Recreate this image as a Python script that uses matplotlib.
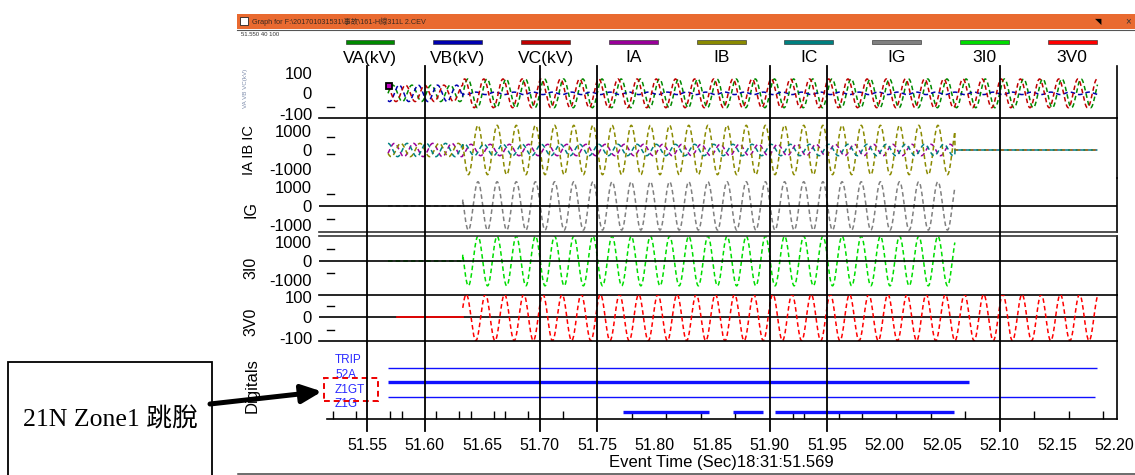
import numpy as np
import matplotlib
matplotlib.use("Agg")
import matplotlib.pyplot as plt
from matplotlib.transforms import blended_transform_factory
from matplotlib.patches import Rectangle, FancyArrowPatch
from matplotlib.lines import Line2D

plt.rcParams['font.family'] = ['Liberation Sans', 'Noto Sans CJK TC', 'DejaVu Sans']

# ---------------------------------------------------------------- data
channels = ["VA(kV)", "VB(kV)", "VC(kV)", "IA", "IB", "IC", "IG", "3I0", "3V0"]
channel_colors = ["#008a00", "#0000b0", "#c00000", "#990099", "#8a8a00",
                  "#008080", "#808080", "#00dd00", "#ff0000"]

freq_hz = 60.0
# record start, fault inception, breaker clearing, record end (s)
interval_edges = [51.568, 51.633, 52.061, 52.185]
t_3v0_start = 51.576

# peak amplitude / phase angle (deg) for pre-fault, fault, after clearing
amp_va = [40, 70, 70];        ang_va = [0, 30, 30]
amp_vb = [40, 6, 6];          ang_vb = [-120, -120, -120]
amp_vc = [40, 70, 70];        ang_vc = [120, 90, 90]
amp_ia = [350, 300, 0];       ang_ia = [-30, -30, 0]
amp_ib = [350, 1300, 0];      ang_ib = [-150, -160, 0]
amp_ic = [350, 300, 0];       ang_ic = [90, 90, 0]
amp_ig = [0, 1260, np.nan];   ang_ig = [0, -160, 0]
amp_3i0 = [0, 1320, np.nan];  ang_3i0 = [0, -160, 0]
amp_3v0 = [0, 115, 115];      ang_3v0 = [0, 60, 60]

cursor_time = 51.5685
cursor_value = 34

# digital channels: (start, end) of each drawn segment
digital_names = ["TRIP", "52A", "Z1GT", "Z1G"]
trip_segments = [(51.568, 52.185)]
a52_segments = [(51.568, 52.073)]
z1gt_segments = [(51.568, 52.183)]
z1g_segments = [(51.772, 51.847), (51.868, 51.8945), (51.905, 52.0606)]

x_major = [51.55, 51.60, 51.65, 51.70, 51.75, 51.80, 51.85, 51.90,
           51.95, 52.00, 52.05, 52.10, 52.15, 52.20]
x_minor = [51.52, 51.54, 51.57, 51.58, 51.61, 51.63, 51.64, 51.66, 51.67,
           51.69, 51.72, 51.78, 51.81, 51.84, 51.87, 51.92, 51.93, 51.96,
           51.98, 52.01, 52.04, 52.07, 52.13, 52.16, 52.19]
cursor_lines = [51.55, 51.60, 51.70, 51.75, 51.90, 51.95, 52.10]

# ---------------------------------------------------------------- helpers
W, H = 1135, 475
fig = plt.figure(figsize=(W / 100, H / 100), dpi=100)
fig.patch.set_facecolor("white")

X0, X1 = 319, 1117
xlim = (51.508, 52.202)


def fx(px):
    return px / W


def fy(py):
    return 1 - py / H


def panel(top, bottom):
    ax = fig.add_axes([fx(X0), fy(bottom), (X1 - X0) / W, (bottom - top) / H])
    ax.set_xlim(*xlim)
    for s in ax.spines.values():
        s.set_visible(False)
    ax.spines['right'].set_visible(True)
    ax.spines['right'].set_linewidth(1.2)
    ax.tick_params(axis='x', bottom=False, labelbottom=False)
    ax.tick_params(axis='y', length=0, pad=5, labelsize=12)
    ax.patch.set_alpha(0)
    return ax


t = np.linspace(interval_edges[0], interval_edges[-1], 8000)


def synth(amps, angs, start=None):
    y = np.full_like(t, np.nan)
    edges = list(interval_edges)
    if start is not None:
        edges[0] = start
    for i in range(3):
        m = (t >= edges[i]) & (t <= edges[i + 1])
        y[m] = amps[i] * np.sin(2 * np.pi * freq_hz * (t[m] - interval_edges[0])
                                + np.deg2rad(angs[i]))
    return y


trace_style = dict(lw=1.1, linestyle=(0, (3, 2)))


def ticks(ax, vals, labels):
    ax.set_yticks(vals)
    ax.set_yticklabels(labels)


def side_dashes(ax, vals):
    tr = blended_transform_factory(ax.transAxes, ax.transData)
    for v in vals:
        ax.add_line(Line2D([0.0104, 0.0188], [v, v], transform=tr,
                           color="black", lw=1.0, clip_on=False))


# ---------------------------------------------------------------- panels
ax1 = panel(66, 118)
ax1.set_ylim(-120, 133)
ax1.spines['bottom'].set_visible(True)
ax1.spines['bottom'].set_linewidth(1.2)
for amps, angs, c in [(amp_va, ang_va, channel_colors[0]),
                      (amp_vb, ang_vb, channel_colors[1]),
                      (amp_vc, ang_vc, channel_colors[2])]:
    ax1.plot(t, synth(amps, angs), color=c, **trace_style)
ax1.plot([cursor_time], [cursor_value], marker='s', ms=4.5, mfc="#c000c0",
         mec="black", mew=1.3, zorder=5)
ticks(ax1, [100, 0, -100], ["100", "0", "-100"])
side_dashes(ax1, [-65])

ax2 = panel(118, 178)
ax2.set_ylim(-1474, 1684)
for amps, angs, c in [(amp_ia, ang_ia, channel_colors[3]),
                      (amp_ib, ang_ib, channel_colors[4]),
                      (amp_ic, ang_ic, channel_colors[5])]:
    ax2.plot(t, synth(amps, angs), color=c, **trace_style)
ticks(ax2, [1000, 0, -1000], ["1000", "0", "-1000"])
side_dashes(ax2, [670, -230])

ax3 = panel(178, 232.3)
ax3.set_ylim(-1375, 1453)
ax3.spines['bottom'].set_visible(True)
ax3.spines['bottom'].set_linewidth(1.2)
ax3.spines['bottom'].set_color("#333333")
ax3.axhline(0, color="black", lw=1.2, zorder=4)
ax3.plot(t, synth(amp_ig, ang_ig), color=channel_colors[6], **trace_style)
ticks(ax3, [1000, 0, -1000], ["1000", "0", "-1000"])
side_dashes(ax3, [640, -700])

ax4 = panel(235.7, 294.5)
ax4.set_ylim(-1780, 1345)
ax4.spines['bottom'].set_visible(True)
ax4.spines['top'].set_visible(True)
for s in ('top', 'bottom'):
    ax4.spines[s].set_linewidth(1.2)
ax4.spines['top'].set_color("#333333")
ax4.axhline(0, color="black", lw=1.2, zorder=4)
ax4.plot(t, synth(amp_3i0, ang_3i0), color=channel_colors[7], **trace_style)
ticks(ax4, [1000, 0, -1000], ["1000", "0", "-1000"])
side_dashes(ax4, [650, -660])

ax5 = panel(294.5, 340.7)
ax5.set_ylim(-115, 114)
ax5.spines['bottom'].set_visible(True)
ax5.spines['bottom'].set_linewidth(1.2)
ax5.axhline(0, color="black", lw=1.2, zorder=1)
y3v0 = synth(amp_3v0, ang_3v0, start=t_3v0_start)
pre = t < interval_edges[1]
ax5.plot(t[pre], y3v0[pre], color=channel_colors[8], lw=1.2, zorder=3)
ax5.plot(t[~pre], y3v0[~pre], color=channel_colors[8], **trace_style)
ticks(ax5, [100, 0, -100], ["100", "0", "-100"])
side_dashes(ax5, [58, -60])

# digital channels
axd = panel(340.7, 419)
axd.set_ylim(3.49, -1.84)
axd.spines['bottom'].set_visible(True)
axd.spines['bottom'].set_linewidth(1.2)
axd.spines['bottom'].set_bounds(51.515, xlim[1])
axd.set_yticks([])
digital_blue = "#1010ff"
for row, (segs, lw) in enumerate([(trip_segments, 1.0), (a52_segments, 2.4),
                                   (z1gt_segments, 1.0), (z1g_segments, 2.4)]):
    for a, b in segs:
        axd.plot([a, b], [row, row], color=digital_blue, lw=lw,
                 solid_capstyle='butt')
    axd.text(51.522, row - 0.5, digital_names[row], color="#2a2aff",
             fontsize=8.5, ha='left', va='center')
axd.tick_params(axis='x', which='major', bottom=True, labelbottom=True,
                length=0, pad=14, labelsize=11.5)
axd.set_xticks(x_major)
axd.set_xticklabels([f"{v:.2f}" for v in x_major])
axd.set_xticks(x_minor, minor=True)
axd.tick_params(axis='x', which='minor', bottom=True, direction='in',
                length=6, width=1.0)

# cursor lines crossing all panels
trv = blended_transform_factory(axd.transData, fig.transFigure)
for xv in cursor_lines:
    fig.add_artist(Line2D([xv, xv], [fy(431), fy(66)], transform=trv,
                          color="black", lw=1.3, zorder=6))

# ---------------------------------------------------------------- labels
fig.text(fx(721), fy(463), "Event Time (Sec)18:31:51.569", ha='center',
         va='center', fontsize=12)
fig.text(fx(246), fy(88), "VA VB VC(kV)", rotation=90, ha='center',
         va='center', fontsize=4.5, color="#7d8cab")
for txt, x, y, fs in [("IA IB IC", 249, 150, 10.5), ("IG", 251.3, 209, 11.5),
                      ("3I0", 251.3, 268, 11.5), ("3V0", 251, 322, 11.5),
                      ("Digitals", 251.7, 385.5, 12)]:
    fig.text(fx(x), fy(y), txt, rotation=90, ha='center', va='center',
             fontsize=fs)

# legend row
legend_x = [370, 457.8, 545.5, 633.5, 721.2, 808.8, 896.5, 984.3, 1072]
for name, col, cx in zip(channels, channel_colors, legend_x):
    fig.add_artist(Rectangle((fx(cx - 24.5), fy(44)), 49 / W, 4 / H,
                             transform=fig.transFigure, facecolor=col,
                             edgecolor="#202020", lw=0.4))
    fig.text(fx(cx), fy(58), name, ha='center', va='center', fontsize=12.5)

# window title bar
fig.add_artist(Rectangle((fx(237), fy(29)), (W - 237) / W, 15 / H,
                         transform=fig.transFigure, facecolor="#e96a30",
                         edgecolor="none"))
fig.add_artist(Line2D([fx(237), 1], [fy(29.5), fy(29.5)], color="#555555",
                      lw=0.8))
fig.add_artist(Rectangle((fx(240), fy(25)), 8 / W, 8 / H,
                         transform=fig.transFigure, facecolor="white",
                         edgecolor="#222222", lw=0.6))
fig.text(fx(252), fy(21.5), r"Graph for F:\201701031531\事故\161-H線311L 2.CEV",
         ha='left', va='center', fontsize=5.2, color="#3a2a20")
fig.text(fx(1098), fy(21.5), "◥", ha='center', va='center', fontsize=6,
         color="black", family="DejaVu Sans")
fig.text(fx(1128), fy(21.5), "×", ha='center', va='center', fontsize=7,
         color="#333333")
fig.text(fx(241), fy(34.5), "51.550 40 100", ha='left', va='center',
         fontsize=4.3, color="#333333")
fig.add_artist(Line2D([fx(238), 1], [fy(474), fy(474)], color="#444444",
                      lw=1.1))

# annotation of the zone-1 ground element
fig.add_artist(Rectangle((fx(8), fy(477)), 204 / W, 115 / H,
                         transform=fig.transFigure, facecolor="white",
                         edgecolor="black", lw=1.3))
fig.text(fx(110), fy(420), "21N Zone1 跳脫", ha='center', va='center',
         fontsize=18.5, family=['Liberation Serif', 'Noto Sans CJK TC'])
fig.add_artist(FancyArrowPatch((fx(210), fy(404)), (fx(322), fy(391.5)),
                               transform=fig.transFigure,
                               arrowstyle='-|>,head_length=0.55,head_width=0.25',
                               mutation_scale=22, lw=3.6, color="black",
                               shrinkA=0, shrinkB=0))
fig.add_artist(Rectangle((fx(324.3), fy(400.7)), 53.4 / W, 23 / H,
                         transform=fig.transFigure, facecolor="none",
                         edgecolor="#ee0000", lw=1.4, linestyle=(0, (3, 2))))

fig.savefig("out.png", dpi=100)
